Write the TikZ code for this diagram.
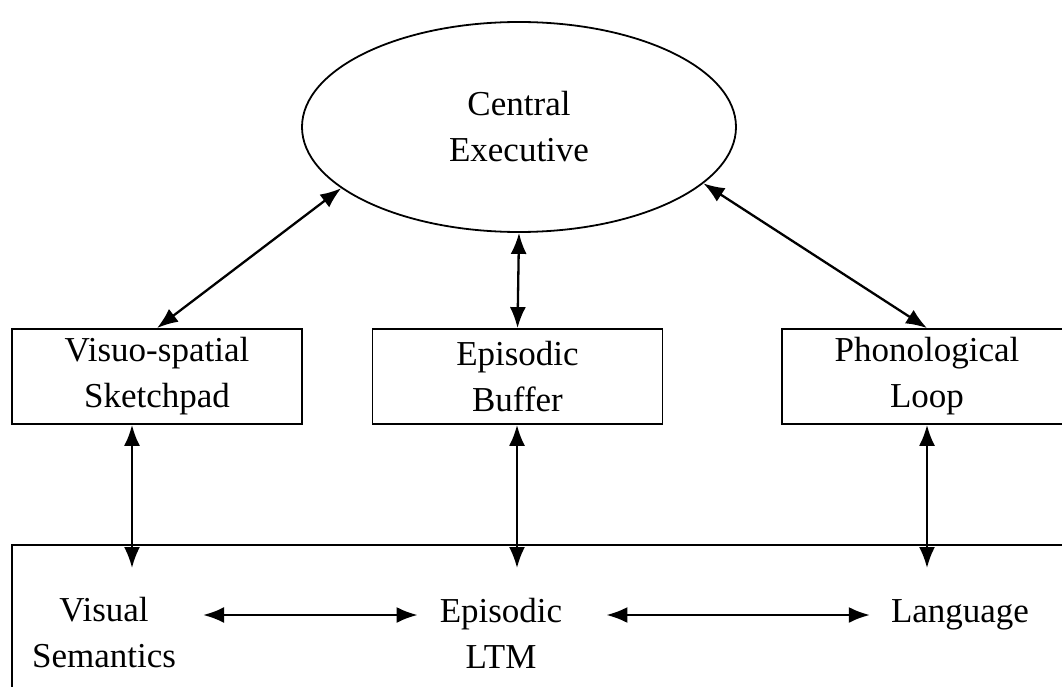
\documentclass[tikz,border=0pt]{standalone}
\usepackage{fontspec}
\setmainfont{Liberation Serif}
\usetikzlibrary{shapes.geometric, arrows.meta}

\begin{document}
\begin{tikzpicture}[x=1pt, y=-1pt,
    every node/.style={font=\fontsize{35}{46}\selectfont, align=center, inner sep=0pt},
    unit/.style={draw, line width=1.8pt, minimum width=290pt, minimum height=95pt},
    link/.style={{Latex[length=21pt,width=16pt]}-{Latex[length=21pt,width=16pt]}, line width=2.3pt}]
    \useasboundingbox (0,0) rectangle (1062,687);
    \clip (0,0) rectangle (1062,687);

    \node[draw, ellipse, line width=1.8pt, minimum width=434pt, minimum height=210pt] (ce) at (519,127) {Central\\Executive};

    \node[unit] (vsp) at (157,376.5) {Visuo-spatial\\Sketchpad};
    \node[unit] (eb) at (517.5,376.5) {Episodic\\Buffer};
    \node[unit] (pl) at (927,376.5) {Phonological\\Loop};

    \node[draw, line width=1.8pt, minimum width=1068pt, minimum height=165pt] (ltm) at (546,627.5) {};
    \node (vs) at (104,633) {Visual\\Semantics};
    \node (eltm) at (501,633) {Episodic\\LTM};
    \node (lang) at (960,615) {Language};

    \coordinate (vsend) at (132,568);
    \coordinate (ebend) at (517,568);
    \coordinate (plend) at (927,568);

    \draw[link] (ce.199) -- (vsp.north);
    \draw[link] (ce.south) -- (eb.north);
    \draw[link] (ce.343) -- (pl.north);

    \draw[link] (vsp.south -| vsend) -- (vsend);
    \draw[link] (eb.south -| ebend) -- (ebend);
    \draw[link] (pl.south -| plend) -- (plend);

    \draw[link, shorten <=27pt, shorten >=22pt] (vs.east |- lang) -- (eltm.west |- lang);
    \draw[link, shorten <=44pt, shorten >=21pt] (eltm.east |- lang) -- (lang.west);
\end{tikzpicture}
\end{document}
